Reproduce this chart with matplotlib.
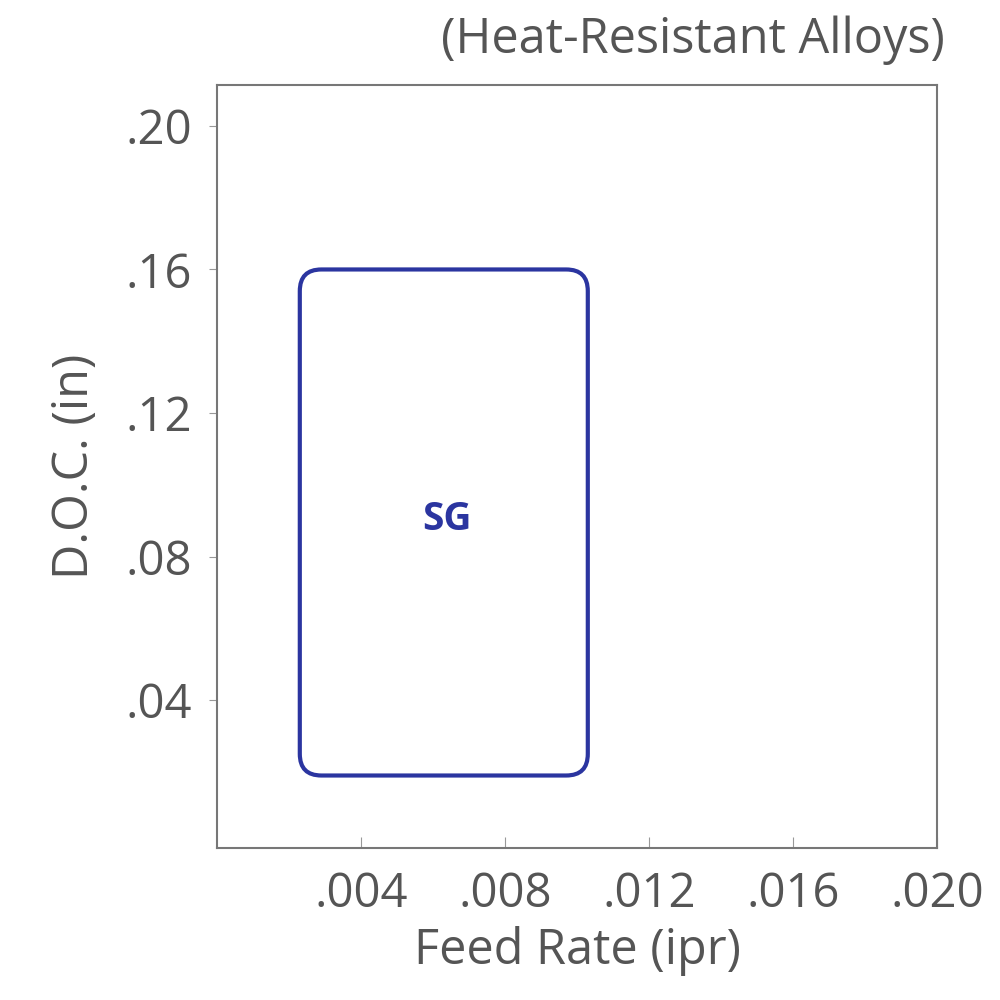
"""Operating window chart: feed rate vs depth of cut for heat-resistant alloys."""

import matplotlib

matplotlib.use("Agg")
import matplotlib.pyplot as plt
from matplotlib.patches import FancyBboxPatch

plt.rcParams["font.family"] = ["Open Sans", "DejaVu Sans"]

# data
x_ticks = [0.004, 0.008, 0.012, 0.016, 0.020]
x_labels = [".004", ".008", ".012", ".016", ".020"]
y_ticks = [0.04, 0.08, 0.12, 0.16, 0.20]
y_labels = [".04", ".08", ".12", ".16", ".20"]
grade = "SG"
feed_range = [0.0023, 0.0103]
doc_range = [0.019, 0.160]

gray = "#555555"
blue = "#2b35a0"

fig = plt.figure(figsize=(10, 10), dpi=100)
ax = fig.add_axes([0.217, 0.152, 0.72, 0.763])
ax.set_xlim(0, 0.020)
ax.set_ylim(-0.0012, 0.2114)

box = FancyBboxPatch(
    (feed_range[0], doc_range[0]),
    feed_range[1] - feed_range[0],
    doc_range[1] - doc_range[0],
    boxstyle="round,pad=0,rounding_size=0.0006",
    mutation_aspect=(0.2126 / 0.020) * (0.72 / 0.763),
    facecolor="none",
    edgecolor=blue,
    linewidth=3,
)
ax.add_patch(box)
ax.text(0.0064, 0.0902, grade, color=blue, fontsize=28,
        fontweight="bold", ha="center", va="center")

ax.set_xticks(x_ticks)
ax.set_xticklabels(x_labels)
ax.set_yticks(y_ticks)
ax.set_yticklabels(y_labels)
ax.tick_params(axis="x", direction="in", length=8, color="#999999",
               labelsize=34, labelcolor=gray, pad=16)
ax.tick_params(axis="y", direction="out", length=6, color="#999999",
               labelsize=34, labelcolor=gray, pad=12)
for s in ax.spines.values():
    s.set_color("#777777")
    s.set_linewidth(1.5)

ax.set_xlabel("Feed Rate (ipr)", fontsize=35, color=gray, labelpad=6)
ax.set_ylabel("D.O.C. (in)", fontsize=35, color=gray, labelpad=18)
fig.text(0.945, 0.96, "(Heat-Resistant Alloys)", fontsize=35, color=gray,
         ha="right", va="center")

plt.savefig("out.png", dpi=100)
plt.close(fig)
